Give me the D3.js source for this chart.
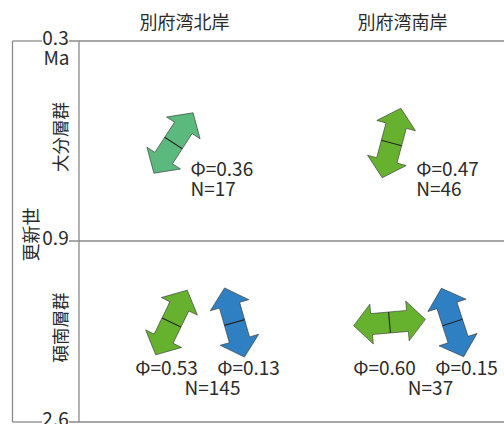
<!DOCTYPE html>
<html>
<head>
<meta charset="utf-8">
<script src="https://cdn.jsdelivr.net/npm/d3@7"></script>
<style>
  html, body { margin: 0; padding: 0; background: #fff; }
  svg { display: block; }
  text { font-family: "Noto Sans CJK JP", "Noto Sans", sans-serif; fill: #2b2b2b; }
</style>
</head>
<body>
<svg id="chart" width="504" height="424"></svg>
<script>
// Columns (coast) and rows (formation, with their age limits in Ma)
const regions = ["別府湾北岸", "別府湾南岸"];
const formations = ["大分層群", "碩南層群"];
const formationTop = [0.3, 0.9];
const formationBase = [0.9, 2.6];
const epochLabel = "更新世";
const ageTicks = [0.3, 0.9, 2.6];
const ageTickLabels = ["0.3", "0.9", "2.6"];
const ageUnit = "Ma";

// Stress solutions: axis azimuth (deg clockwise from north), stress ratio Φ, class
const stressRegion    = ["別府湾北岸", "別府湾南岸", "別府湾北岸", "別府湾北岸", "別府湾南岸", "別府湾南岸"];
const stressFormation = ["大分層群", "大分層群", "碩南層群", "碩南層群", "碩南層群", "碩南層群"];
const stressAzimuth   = [33, 15, 26, 344, 85, 342];
const stressPhi       = [0.36, 0.47, 0.53, 0.13, 0.60, 0.15];
const stressClass     = ["A", "B", "B", "C", "B", "C"];

// Number of fault-slip data per cell
const countRegion    = ["別府湾北岸", "別府湾南岸", "別府湾北岸", "別府湾南岸"];
const countFormation = ["大分層群", "大分層群", "碩南層群", "碩南層群"];
const countN         = [17, 46, 145, 37];

const W = 504, H = 424;
const svg = d3.select("#chart");

const frameLeft = 12.5, frameInner = 79;
const x = d3.scaleBand().domain(regions).range([75.5, 511.5]);
const y = d3.scaleLinear().domain(ageTicks).range([41, 241, 422]);
const colour = d3.scaleOrdinal().domain(["A", "B", "C"])
  .range(["#5bb97d", "#66b22e", "#2e80c3"]);

const lineColour = "#8a8a8a";
const labelSize = 19;
const g = svg.append("g");

// ---- frame ----
const yTop = y(ageTicks[0]), yBot = y(ageTicks[ageTicks.length - 1]);
[frameLeft, frameInner].forEach(fx => {
  g.append("line").attr("x1", fx).attr("x2", fx).attr("y1", yTop).attr("y2", yBot)
    .attr("stroke", lineColour).attr("stroke-width", 1.3);
});

const tickLabelX = 55.5, gapHalf = 13.5;
ageTicks.forEach((t, i) => {
  const ty = y(t);
  const outer = i === 0 || i === ageTicks.length - 1;
  if (outer) {
    g.append("line").attr("x1", frameLeft).attr("x2", tickLabelX - gapHalf)
      .attr("y1", ty).attr("y2", ty).attr("stroke", lineColour).attr("stroke-width", 1.3);
  }
  g.append("line").attr("x1", tickLabelX + gapHalf).attr("x2", W)
    .attr("y1", ty).attr("y2", ty).attr("stroke", lineColour).attr("stroke-width", 1.3);
  g.append("text").attr("x", tickLabelX).attr("y", ty + 4)
    .attr("text-anchor", "middle").attr("font-size", labelSize).text(ageTickLabels[i]);
});
g.append("text").attr("x", tickLabelX + 1).attr("y", yTop + 24)
  .attr("text-anchor", "middle").attr("font-size", labelSize).text(ageUnit);

// ---- column titles ----
g.selectAll("text.region").data(regions).join("text")
  .attr("class", "region")
  .attr("x", d => x(d) + x.bandwidth() / 2)
  .attr("y", 21)
  .attr("text-anchor", "middle").attr("dominant-baseline", "central")
  .attr("font-size", 18).text(d => d);

// ---- rotated row labels ----
function vlabel(cx, cy, txt, size) {
  g.append("text").attr("transform", `translate(${cx},${cy}) rotate(-90)`)
    .attr("text-anchor", "middle").attr("dominant-baseline", "central")
    .attr("font-size", size).text(txt);
}
vlabel(30, (yTop + yBot) / 2 + 3, epochLabel, 18);
formations.forEach((f, i) => {
  vlabel(59, (y(formationTop[i]) + y(formationBase[i])) / 2 - 4, f, 17.5);
});

// ---- double-headed stress arrows ----
const half = 36, headLen = 18, headHalf = 20, shaftHalf = 10.5;
const arrowShape = [
  [0, -half], [headHalf, -half + headLen], [shaftHalf, -half + headLen],
  [shaftHalf, half - headLen], [headHalf, half - headLen], [0, half],
  [-headHalf, half - headLen], [-shaftHalf, half - headLen],
  [-shaftHalf, -half + headLen], [-headHalf, -half + headLen]
];
const arrowPath = d3.line()(arrowShape) + "Z";

const arrows = stressAzimuth.map((az, i) => ({
  region: stressRegion[i], formation: stressFormation[i],
  az, phi: stressPhi[i], cls: stressClass[i]
}));
const cellKey = d => d.region + "|" + d.formation;
const byCell = d3.group(arrows, cellKey);

function cellCentre(region, formation) {
  const fi = formations.indexOf(formation);
  return {
    cx: x(region) + x.bandwidth() / 2,
    cy: (y(formationTop[fi]) + y(formationBase[fi])) / 2
  };
}

const fmt = d3.format(".2f");
const rad = Math.PI / 180;
// x offset of an arrow's lower-right barb after rotation
const barbX = az => headHalf * Math.cos(az * rad) - (half - headLen) * Math.sin(az * rad);

byCell.forEach((list) => {
  const { cx, cy } = cellCentre(list[0].region, list[0].formation);
  const paired = list.length > 1;
  list.forEach((d, k) => {
    const ax = paired ? cx + 18.5 + (k === 0 ? -31.5 : 31.5) : cx - 11;
    const ay = paired ? cy - 9 : cy + 2;
    const a = g.append("g").attr("transform", `translate(${ax},${ay}) rotate(${d.az})`);
    a.append("path").attr("d", arrowPath).attr("fill", colour(d.cls))
      .attr("stroke", "#3a3a3a").attr("stroke-width", 0.6).attr("stroke-linejoin", "miter");
    a.append("line").attr("x1", -shaftHalf).attr("x2", shaftHalf).attr("y1", 0).attr("y2", 0)
      .attr("stroke", "#262626").attr("stroke-width", 1.1);

    if (paired) {
      g.append("text").attr("x", cx + 23 + (k === 0 ? -41 : 41)).attr("y", ay + 52.5)
        .attr("text-anchor", "middle").attr("font-size", labelSize).text("Φ=" + fmt(d.phi));
    } else {
      g.append("text").attr("x", ax + barbX(d.az) + 10).attr("y", ay + 33)
        .attr("font-size", labelSize).text("Φ=" + fmt(d.phi));
    }
  });
});

// ---- sample counts ----
countN.forEach((n, i) => {
  const list = byCell.get(countRegion[i] + "|" + countFormation[i]);
  const { cx, cy } = cellCentre(countRegion[i], countFormation[i]);
  if (list.length > 1) {
    g.append("text").attr("x", cx + 28).attr("y", cy - 9 + 72.5)
      .attr("text-anchor", "middle").attr("font-size", labelSize).text("N=" + n);
  } else {
    const ax = cx - 11, ay = cy + 2;
    g.append("text").attr("x", ax + barbX(list[0].az) + 10).attr("y", ay + 53)
      .attr("font-size", labelSize).text("N=" + n);
  }
});
</script>
</body>
</html>
